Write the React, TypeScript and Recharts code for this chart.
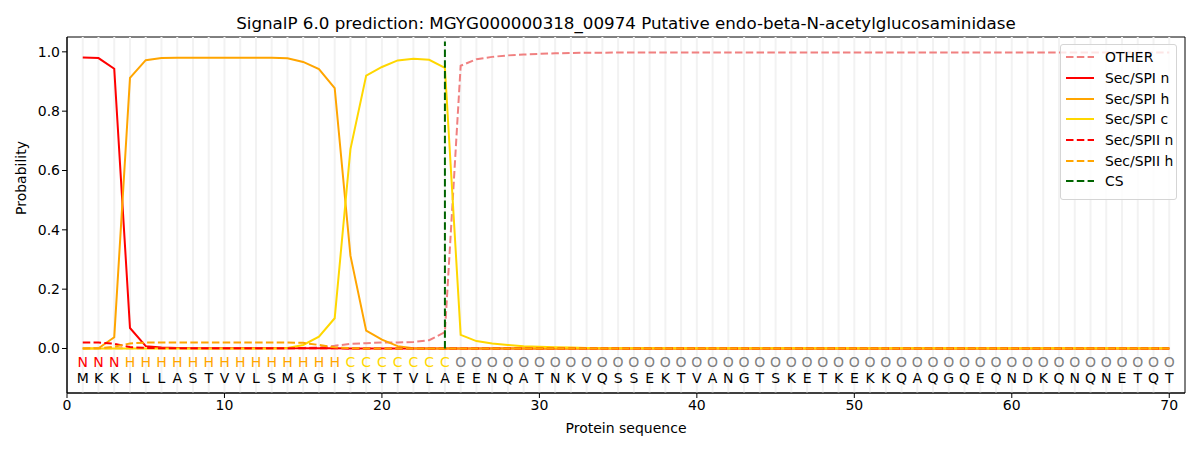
import {
  ComposedChart,
  Line,
  Scatter,
  XAxis,
  YAxis,
  ReferenceLine,
  ReferenceArea,
} from 'recharts';

// residues of the protein, one per position
const residues = 'MKKILLASTVVLSMAGISKTTVLAEENQATNKVQSSEKTVANGTSKETKEKKQAQGQEQNDKQNQNETQT'.split('');

// predicted region per position: N, H, C, O
const regions = ('NNN' + 'H'.repeat(14) + 'C'.repeat(7) + 'O'.repeat(46)).split('');

const other = [
  0.001, 0.001, 0.001, 0.001, 0.001, 0.001, 0.001, 0.001, 0.001, 0.001,
  0.001, 0.001, 0.001, 0.001, 0.002, 0.004, 0.009, 0.016, 0.018, 0.02,
  0.02, 0.022, 0.028, 0.055, 0.953, 0.975, 0.983, 0.988, 0.991, 0.993,
  0.995, 0.996, 0.997, 0.997, 0.998, 0.998, 0.998, 0.998, 0.998, 0.998,
  0.998, 0.998, 0.998, 0.998, 0.998, 0.998, 0.998, 0.998, 0.998, 0.998,
  0.998, 0.998, 0.998, 0.998, 0.998, 0.998, 0.998, 0.998, 0.998, 0.998,
  0.998, 0.998, 0.998, 0.998, 0.998, 0.998, 0.998, 0.998, 0.998, 0.998,
];

const spiN = [
  0.981, 0.979, 0.943, 0.069, 0.008, 0.003, 0.002, 0.001, 0.001, 0.001,
  0.001, 0.001, 0.001, 0.001, 0.001, 0.001, 0.001, 0, 0, 0,
  0, 0, 0, 0, 0, 0, 0, 0, 0, 0,
  0, 0, 0, 0, 0, 0, 0, 0, 0, 0,
  0, 0, 0, 0, 0, 0, 0, 0, 0, 0,
  0, 0, 0, 0, 0, 0, 0, 0, 0, 0,
  0, 0, 0, 0, 0, 0, 0, 0, 0, 0,
];

const spiH = [
  0, 0.001, 0.038, 0.912, 0.972, 0.979, 0.98, 0.98, 0.98, 0.98,
  0.98, 0.98, 0.98, 0.978, 0.966, 0.942, 0.878, 0.313, 0.06, 0.03,
  0.008, 0.001, 0, 0, 0, 0, 0, 0, 0, 0,
  0, 0, 0, 0, 0, 0, 0, 0, 0, 0,
  0, 0, 0, 0, 0, 0, 0, 0, 0, 0,
  0, 0, 0, 0, 0, 0, 0, 0, 0, 0,
  0, 0, 0, 0, 0, 0, 0, 0, 0, 0,
];

const spiC = [
  0, 0, 0, 0, 0, 0, 0, 0, 0, 0,
  0, 0, 0, 0.002, 0.012, 0.04, 0.102, 0.672, 0.92, 0.949,
  0.971, 0.977, 0.973, 0.946, 0.046, 0.025, 0.017, 0.012, 0.008, 0.006,
  0.004, 0.003, 0.002, 0.001, 0.001, 0.001, 0.001, 0.001, 0.001, 0.001,
  0.001, 0.001, 0.001, 0.001, 0.001, 0.001, 0.001, 0.001, 0.001, 0.001,
  0.001, 0.001, 0.001, 0.001, 0.001, 0.001, 0.001, 0.001, 0.001, 0.001,
  0.001, 0.001, 0.001, 0.001, 0.001, 0.001, 0.001, 0.001, 0.001, 0.001,
];

const spiiN = [
  0.02, 0.02, 0.016, 0.005, 0.002, 0.001, 0.001, 0.001, 0.001, 0.001,
  0.001, 0.001, 0.001, 0.001, 0.001, 0.001, 0.001, 0, 0, 0,
  0, 0, 0, 0, 0, 0, 0, 0, 0, 0,
  0, 0, 0, 0, 0, 0, 0, 0, 0, 0,
  0, 0, 0, 0, 0, 0, 0, 0, 0, 0,
  0, 0, 0, 0, 0, 0, 0, 0, 0, 0,
  0, 0, 0, 0, 0, 0, 0, 0, 0, 0,
];

const spiiH = [
  0, 0.001, 0.006, 0.017, 0.02, 0.02, 0.02, 0.02, 0.02, 0.02,
  0.02, 0.02, 0.02, 0.02, 0.019, 0.012, 0.004, 0.001, 0, 0,
  0, 0, 0, 0, 0, 0, 0, 0, 0, 0,
  0, 0, 0, 0, 0, 0, 0, 0, 0, 0,
  0, 0, 0, 0, 0, 0, 0, 0, 0, 0,
  0, 0, 0, 0, 0, 0, 0, 0, 0, 0,
  0, 0, 0, 0, 0, 0, 0, 0, 0, 0,
];

const cleavageSite = 24;
const xTicks = [0, 10, 20, 30, 40, 50, 60, 70];
const yTicks = [0, 0.2, 0.4, 0.6, 0.8, 1.0];

const REGION_COLORS: Record<string, string> = {
  N: '#ff0000',
  H: '#ffa500',
  C: '#ffd700',
  O: '#808080',
};

const FONT = '"DejaVu Sans", sans-serif';
const DASH = '7.5 3.3';

const rows = residues.map((r, i) => ({
  x: i + 1,
  other: other[i],
  spiN: spiN[i],
  spiH: spiH[i],
  spiC: spiC[i],
  spiiN: spiiN[i],
  spiiH: spiiH[i],
}));

const regionRows = regions.map((r, i) => ({ x: i + 1, y: -0.047, label: r }));
const residueRows = residues.map((r, i) => ({ x: i + 1, y: -0.1, label: r }));

const legendItems = [
  { name: 'OTHER', color: '#f08080', dashed: true },
  { name: 'Sec/SPI n', color: '#ff0000', dashed: false },
  { name: 'Sec/SPI h', color: '#ffa500', dashed: false },
  { name: 'Sec/SPI c', color: '#ffd700', dashed: false },
  { name: 'Sec/SPII n', color: '#ff0000', dashed: true },
  { name: 'Sec/SPII h', color: '#ffa500', dashed: true },
  { name: 'CS', color: '#006400', dashed: true },
];

const letterShape = (colorOf: (l: string) => string) => (props: any) => (
  <text
    x={props.cx}
    y={props.cy}
    textAnchor="middle"
    dominantBaseline="central"
    fontSize={14}
    fontFamily={FONT}
    fill={colorOf(props.payload.label)}
  >
    {props.payload.label}
  </text>
);

export default function App() {
  return (
    <div style={{ position: 'absolute', left: 0, top: 0, width: 1200, height: 450, background: '#fff' }}>
      <div
        style={{
          position: 'absolute',
          left: 67,
          width: 1118,
          top: 13,
          textAlign: 'center',
          fontFamily: FONT,
          fontSize: 16.7,
          color: '#000',
        }}
      >
        SignalP 6.0 prediction: MGYG000000318_00974 Putative endo-beta-N-acetylglucosaminidase
      </div>
      <ComposedChart
        width={1200}
        height={450}
        data={rows}
        margin={{ top: 37, right: 15, left: 0, bottom: 0 }}
      >
        <XAxis
          dataKey="x"
          type="number"
          domain={[0, 71]}
          ticks={xTicks}
          allowDataOverflow
          height={57}
          tickSize={5}
          stroke="#000"
          tick={{ fill: '#000', fontSize: 14, fontFamily: FONT }}
          label={{ value: 'Protein sequence', position: 'insideBottom', offset: 17, fill: '#000', fontSize: 14, fontFamily: FONT }}
        />
        <YAxis
          type="number"
          domain={[-0.15, 1.05]}
          ticks={yTicks}
          allowDataOverflow
          width={67}
          tickSize={5}
          stroke="#000"
          tickFormatter={(v: number) => v.toFixed(1)}
          tick={{ fill: '#000', fontSize: 14, fontFamily: FONT }}
          label={{ value: 'Probability', angle: -90, position: 'insideLeft', offset: 21, fill: '#000', fontSize: 14, fontFamily: FONT }}
        />
        {residues.map((r, i) => (
          <ReferenceLine key={'g' + i} x={i + 1} stroke="#f2f2f2" strokeWidth={2} />
        ))}
        <Line dataKey="other" stroke="#f08080" strokeWidth={2} strokeDasharray={DASH} dot={false} isAnimationActive={false} />
        <Line dataKey="spiN" stroke="#ff0000" strokeWidth={2} dot={false} isAnimationActive={false} />
        <Line dataKey="spiH" stroke="#ffa500" strokeWidth={2} dot={false} isAnimationActive={false} />
        <Line dataKey="spiC" stroke="#ffd700" strokeWidth={2} dot={false} isAnimationActive={false} />
        <Line dataKey="spiiN" stroke="#ff0000" strokeWidth={2} strokeDasharray={DASH} dot={false} isAnimationActive={false} />
        <Line dataKey="spiiH" stroke="#ffa500" strokeWidth={2} strokeDasharray={DASH} dot={false} isAnimationActive={false} />
        <ReferenceLine
          segment={[{ x: cleavageSite, y: 0 }, { x: cleavageSite, y: 1.035 }]}
          stroke="#006400"
          strokeWidth={2}
          strokeDasharray={DASH}
        />
        <Scatter
          data={regionRows}
          dataKey="y"
          isAnimationActive={false}
          shape={letterShape((l) => REGION_COLORS[l])}
        />
        <Scatter
          data={residueRows}
          dataKey="y"
          isAnimationActive={false}
          shape={letterShape(() => '#000')}
        />
        <ReferenceArea x1={0} x2={71} y1={-0.15} y2={1.05} fill="none" stroke="#000" strokeWidth={1} />
      </ComposedChart>
      <div
        style={{
          position: 'absolute',
          left: 1060,
          top: 44,
          width: 117,
          padding: '2px 0 7px 0',
          border: '1px solid #d5d5d5',
          borderRadius: 3,
          background: 'rgba(255,255,255,0.8)',
          fontFamily: FONT,
          fontSize: 13.9,
          boxSizing: 'border-box',
        }}
      >
        {legendItems.map((item) => (
          <div key={item.name} style={{ display: 'flex', alignItems: 'center', height: 20.7 }}>
            <svg width={44} height={10} style={{ flex: 'none' }}>
              <line
                x1={5}
                x2={33}
                y1={5}
                y2={5}
                stroke={item.color}
                strokeWidth={2}
                strokeDasharray={item.dashed ? DASH : undefined}
              />
            </svg>
            <span style={{ whiteSpace: 'nowrap', color: '#000' }}>{item.name}</span>
          </div>
        ))}
      </div>
    </div>
  );
}
